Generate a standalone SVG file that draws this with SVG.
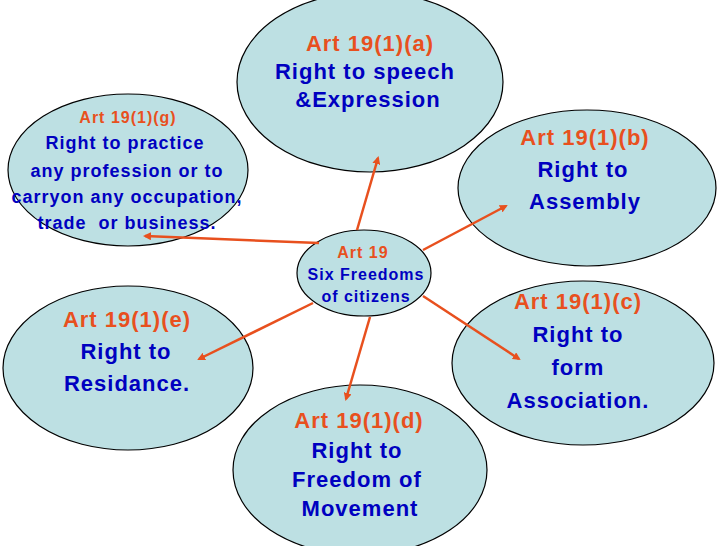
<svg xmlns="http://www.w3.org/2000/svg" width="728" height="546" viewBox="0 0 728 546">
<style>
.n{fill:#bde0e3;stroke:#000;stroke-width:1.2}
text{font-family:"Liberation Sans",Arial,sans-serif;font-weight:bold;text-anchor:middle;letter-spacing:1px}
.o{fill:#e8501e}.b{fill:#0000c0}
.c line{stroke:#e8501e;stroke-width:2.5;marker-end:url(#ah)}
</style>
<defs><marker id="ah" markerWidth="8" markerHeight="8" refX="6" refY="4" orient="auto" markerUnits="userSpaceOnUse"><path d="M0,0L8,4L0,8z" fill="#e8501e"/></marker></defs>
<rect width="728" height="546" fill="#fff"/>
<g id="a"><ellipse class="n" cx="370" cy="82" rx="133" ry="90"/>
<text class="o" x="370" y="51" font-size="22">Art 19(1)(a)</text>
<text class="b" x="365" y="79" font-size="22">Right to speech</text>
<text class="b" x="368" y="107" font-size="22">&amp;Expression</text></g>
<g id="g"><ellipse class="n" cx="128" cy="170" rx="120" ry="76"/>
<text class="o" x="128" y="123" font-size="16">Art 19(1)(g)</text>
<text class="b" x="125" y="149" font-size="18">Right to practice</text>
<text class="b" x="127" y="177" font-size="18">any profession or to</text>
<text class="b" x="127" y="203" font-size="18" letter-spacing="0.6">carryon any occupation,</text>
<text class="b" x="127" y="229" font-size="18" xml:space="preserve">trade  or business.</text></g>
<g id="b"><ellipse class="n" cx="587" cy="188" rx="129" ry="78"/>
<text class="o" x="585" y="145" font-size="22">Art 19(1)(b)</text>
<text class="b" x="583" y="177" font-size="22">Right to</text>
<text class="b" x="585" y="209" font-size="22">Assembly</text></g>
<g id="e"><ellipse class="n" cx="128" cy="368" rx="125" ry="82"/>
<text class="o" x="127" y="327" font-size="22">Art 19(1)(e)</text>
<text class="b" x="126" y="359" font-size="22">Right to</text>
<text class="b" x="127" y="391" font-size="22">Residance.</text></g>
<g id="c"><ellipse class="n" cx="583" cy="363" rx="131" ry="82"/>
<text class="o" x="578" y="309" font-size="22">Art 19(1)(c)</text>
<text class="b" x="578" y="342" font-size="22">Right to</text>
<text class="b" x="578" y="375" font-size="22">form</text>
<text class="b" x="578" y="408" font-size="22">Association.</text></g>
<g id="d"><ellipse class="n" cx="360" cy="470" rx="127" ry="85"/>
<text class="o" x="359" y="428" font-size="22">Art 19(1)(d)</text>
<text class="b" x="357" y="458" font-size="22">Right to</text>
<text class="b" x="357" y="487" font-size="22">Freedom of</text>
<text class="b" x="360" y="516" font-size="22">Movement</text></g>
<g id="center"><ellipse class="n" cx="364" cy="273" rx="67" ry="43"/>
<text class="o" x="363" y="258" font-size="16">Art 19</text>
<text class="b" x="366" y="280" font-size="16" letter-spacing="0.6">Six Freedoms</text>
<text class="b" x="366" y="302" font-size="16" letter-spacing="0.6">of citizens</text></g>
<g class="c">
<line x1="357" y1="230" x2="378" y2="158"/>
<line x1="319" y1="243" x2="145" y2="236"/>
<line x1="423" y1="250" x2="506" y2="206"/>
<line x1="313" y1="303" x2="199" y2="359"/>
<line x1="370" y1="317" x2="346" y2="399"/>
<line x1="423" y1="296" x2="519" y2="359"/>
</g>
</svg>
